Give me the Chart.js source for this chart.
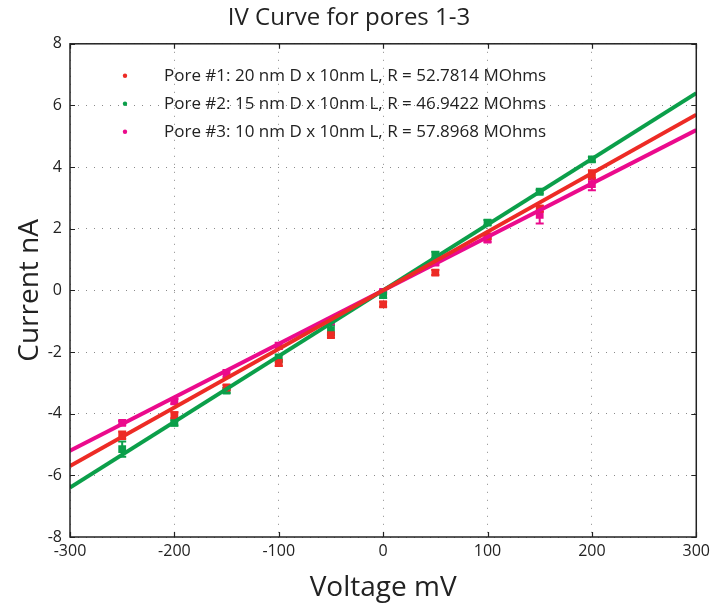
<!DOCTYPE html>
<html>
<head>
<meta charset="utf-8">
<script src="https://cdn.jsdelivr.net/npm/chart.js@4"></script>
<style>
  html, body { margin: 0; padding: 0; background: #fff; }
  #wrap { width: 715px; height: 607px; }
</style>
</head>
<body>
<div id="wrap"><canvas id="ivChart" width="715" height="607"></canvas></div>
<script>
// measured points (mV / nA)
const voltages = [-250, -200, -150, -100, -50, 0, 50, 100, 150, 200];
const pore1Current = [-4.7, -4.05, -3.15, -2.35, -1.45, -0.45, 0.58, 1.75, 2.65, 3.75];
const pore1Err = [0.12, 0.1, 0.08, 0.1, 0.08, 0.08, 0.08, 0.08, 0.1, 0.15];
const pore2Current = [-5.15, -4.3, -3.25, -2.2, -1.3, -0.15, 1.15, 2.2, 3.2, 4.25];
const pore2Err = [0.25, 0.08, 0.08, 0.12, 0.15, 0.1, 0.1, 0.08, 0.06, 0.08];
const pore3Current = [-4.3, -3.6, -2.7, -1.8, -1.0, -0.05, 0.9, 1.65, 2.45, 3.45];
const pore3Err = [0.06, 0.08, 0.12, 0.1, 0.1, 0.06, 0.08, 0.08, 0.28, 0.2];

// fitted lines, end points
const fitVoltages = [-300, 300];
const pore1Fit = [-5.7, 5.7];
const pore2Fit = [-6.4, 6.4];
const pore3Fit = [-5.2, 5.2];

const legendLabels = [
  "Pore #1: 20 nm D x 10nm L, R = 52.7814 MOhms",
  "Pore #2: 15 nm D x 10nm L, R = 46.9422 MOhms",
  "Pore #3: 10 nm D x 10nm L, R = 57.8968 MOhms",
];
const xTicks = [-300, -200, -100, 0, 100, 200, 300];
const yTicks = [-8, -6, -4, -2, 0, 2, 4, 6, 8];

const RED = "#ED2B25";
const GREEN = "#0B9F4A";
const PINK = "#EB0A8C";
const FONT = "'Open Sans', sans-serif";

const toPoints = (xs, ys) => xs.map((x, i) => ({ x: x, y: ys[i] }));

const markerSet = (data, color, err) => ({
  data: toPoints(voltages, data),
  errors: err,
  showLine: false,
  pointStyle: "rect",
  pointRadius: 5.5,
  pointBackgroundColor: color,
  pointBorderWidth: 0,
  borderColor: color,
  backgroundColor: color,
  order: 2,
});

const fitSet = (data, color) => ({
  data: toPoints(fitVoltages, data),
  showLine: true,
  pointRadius: 0,
  borderColor: color,
  borderWidth: 4,
  order: 1,
});

// error bars, frame and inward ticks, legend inside the plot
const extrasPlugin = {
  id: "extras",
  beforeDatasetsDraw(chart) {
    const ctx = chart.ctx;
    const xs = chart.scales.x;
    const ys = chart.scales.y;
    chart.data.datasets.forEach((ds) => {
      if (!ds.errors) return;
      ctx.save();
      ctx.strokeStyle = ds.borderColor;
      ctx.lineWidth = 2;
      ds.data.forEach((p, i) => {
        const px = xs.getPixelForValue(p.x);
        const y1 = ys.getPixelForValue(p.y - ds.errors[i]);
        const y2 = ys.getPixelForValue(p.y + ds.errors[i]);
        ctx.beginPath();
        ctx.moveTo(px, y1);
        ctx.lineTo(px, y2);
        ctx.moveTo(px - 4, y1);
        ctx.lineTo(px + 4, y1);
        ctx.moveTo(px - 4, y2);
        ctx.lineTo(px + 4, y2);
        ctx.stroke();
      });
      ctx.restore();
    });
  },
  afterDraw(chart) {
    const ctx = chart.ctx;
    const a = chart.chartArea;
    const xs = chart.scales.x;
    const ys = chart.scales.y;
    ctx.save();
    ctx.strokeStyle = "#222";
    ctx.lineWidth = 1.2;
    ctx.beginPath();
    xTicks.forEach((v) => {
      const px = Math.round(xs.getPixelForValue(v)) + 0.5;
      ctx.moveTo(px, a.top);
      ctx.lineTo(px, a.top + 5);
      ctx.moveTo(px, a.bottom);
      ctx.lineTo(px, a.bottom - 5);
    });
    yTicks.forEach((v) => {
      const py = Math.round(ys.getPixelForValue(v)) + 0.5;
      ctx.moveTo(a.left, py);
      ctx.lineTo(a.left + 5, py);
      ctx.moveTo(a.right, py);
      ctx.lineTo(a.right - 5, py);
    });
    ctx.stroke();
    ctx.lineWidth = 1.5;
    ctx.strokeRect(a.left, a.top, a.right - a.left, a.bottom - a.top);

    const colors = [RED, GREEN, PINK];
    ctx.font = "17px " + FONT;
    ctx.textBaseline = "middle";
    legendLabels.forEach((txt, i) => {
      const y = a.top + 32 + i * 28;
      ctx.fillStyle = colors[i];
      ctx.beginPath();
      ctx.arc(a.left + 55, y, 2.2, 0, Math.PI * 2);
      ctx.fill();
      ctx.fillStyle = "#222";
      ctx.fillText(txt, a.left + 94, y);
    });
    ctx.restore();
  },
};

new Chart(document.getElementById("ivChart"), {
  type: "scatter",
  data: {
    datasets: [
      fitSet(pore1Fit, RED),
      fitSet(pore2Fit, GREEN),
      fitSet(pore3Fit, PINK),
      markerSet(pore1Current, RED, pore1Err),
      markerSet(pore2Current, GREEN, pore2Err),
      markerSet(pore3Current, PINK, pore3Err),
    ],
  },
  options: {
    responsive: false,
    animation: false,
    layout: { padding: { left: 0, right: 17, top: 0, bottom: 0 } },
    plugins: {
      legend: { display: false },
      tooltip: { enabled: false },
      title: {
        display: true,
        text: "IV Curve for pores 1-3",
        color: "#222",
        font: { family: FONT, size: 24, weight: "normal", lineHeight: 1.2 },
        padding: { top: 4, bottom: 11 },
      },
    },
    scales: {
      x: {
        type: "linear",
        min: -300,
        max: 300,
        afterFit: (s) => { s.height = 70; },
        afterBuildTicks: (s) => { s.ticks = xTicks.map((v) => ({ value: v })); },
        ticks: { color: "#222", font: { family: FONT, size: 16 }, padding: 5 },
        grid: { color: "#8a8a8a", lineWidth: 1, drawTicks: false },
        border: { display: false, dash: [1, 7] },
        title: {
          display: true,
          text: "Voltage mV",
          color: "#222",
          font: { family: FONT, size: 28 },
          padding: { top: 0, bottom: 2 },
        },
      },
      y: {
        type: "linear",
        min: -8,
        max: 8,
        afterFit: (s) => { s.width = 70; },
        afterBuildTicks: (s) => { s.ticks = yTicks.map((v) => ({ value: v })); },
        ticks: { color: "#222", font: { family: FONT, size: 16 }, padding: 8 },
        grid: { color: "#8a8a8a", lineWidth: 1, drawTicks: false },
        border: { display: false, dash: [1, 7] },
        title: {
          display: true,
          text: "Current nA",
          color: "#222",
          font: { family: FONT, size: 28 },
          padding: { top: 13, bottom: 13 },
        },
      },
    },
  },
  plugins: [extrasPlugin],
});
</script>
</body>
</html>
